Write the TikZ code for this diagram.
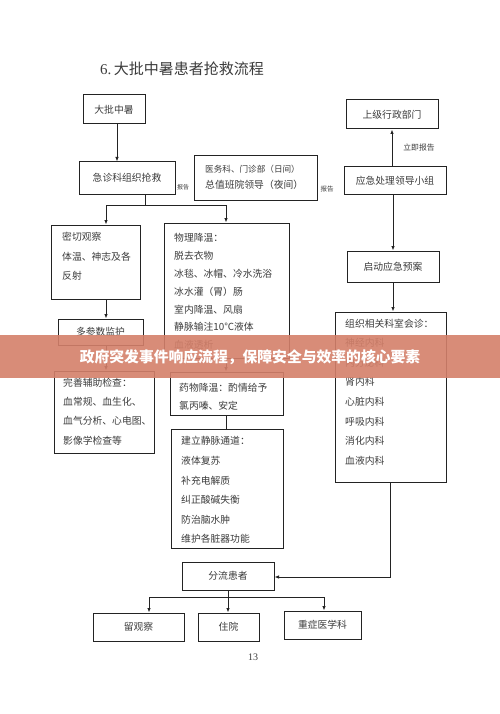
\documentclass[tikz,border=0pt]{standalone}
\usepackage{fontspec}
\setmainfont{Noto Sans CJK SC}
\newfontfamily\serif{Liberation Serif}
\usetikzlibrary{arrows.meta}
\definecolor{ink}{RGB}{35,35,35}
\definecolor{txt}{RGB}{60,60,60}
\definecolor{bannerc}{RGB}{212,128,106}
\begin{document}
\begin{tikzpicture}[x=1pt,y=-1pt,
  box/.style={draw=ink, line width=1pt, rectangle, inner sep=0pt, text=txt, font=\fontsize{9.8}{12}\selectfont},
  multi/.style={text=txt, align=left, anchor=north west, inner sep=0pt, font=\fontsize{9.8}{#1}\selectfont},
  small/.style={text=txt, inner sep=0pt, font=\fontsize{#1}{#1}\selectfont},
  arr/.style={draw=ink, line width=1pt, -{Latex[length=4.5pt,width=3.5pt]}},
  ln/.style={draw=ink, line width=1pt},
  ]
\useasboundingbox (0,0) rectangle (500,714);
\fill[white] (0,0) rectangle (500,714);

% title
\node[text=txt, inner sep=0pt, anchor=west, font=\fontsize{15}{18}\selectfont] (title) at (100,69) {{\serif 6.}\,大批中暑患者抢救流程};

% boxes
\node[box, minimum width=62, minimum height=29] (dapi) at (114,109.5) {大批中暑};
\node[box, minimum width=96, minimum height=32] (jizhen) at (127,178) {急诊科组织抢救};
\node[box, minimum width=123, minimum height=44] (yiwu) at (255.5,178) {};
\node[multi=16.5, anchor=north west] (yiwut) at (205,164.5) {{\fontsize{8.6}{16.5}\selectfont 医务科、门诊部（日间）}\\总值班院领导（夜间）};
\node[box, minimum width=102, minimum height=27] (yingji) at (395,180.5) {应急处理领导小组};
\node[box, minimum width=92, minimum height=29] (shangji) at (392,114.5) {上级行政部门};
\node[box, minimum width=92, minimum height=31] (qidong) at (393,266.5) {启动应急预案};
\node[box, minimum width=111, minimum height=170] (zuzhi) at (390.5,397) {};
\node[multi=19.6] (zuzhit) at (345,318.5) {组织相关科室会诊：\\神经内科\\内分泌科\\肾内科\\心脏内科\\呼吸内科\\消化内科\\血液内科};

\node[box, minimum width=89, minimum height=74] (miqie) at (95.5,262) {};
\node[multi=19.5] (miqiet) at (62,232) {密切观察\\体温、神志及各\\反射};
\node[box, minimum width=85, minimum height=26] (duocan) at (100.5,332) {多参数监护};
\node[box, minimum width=100, minimum height=82] (wanshan) at (104,412) {};
\node[multi=19.2] (wanshant) at (63,378) {完善辅助检查：\\血常规、血生化、\\血气分析、心电图、\\影像学检查等};

\node[box, minimum width=125, minimum height=135] (wuli) at (226.5,290.5) {};
\node[multi=17.8] (wulit) at (174,233.5) {物理降温：\\脱去衣物\\冰毯、冰帽、冷水洗浴\\冰水灌（胃）肠\\室内降温、风扇\\静脉输注10℃液体\\血液透析};
\node[box, minimum width=113, minimum height=43] (yaowu) at (226.5,393.5) {};
\node[multi=18] (yaowut) at (179,383.5) {药物降温：酌情给予\\氯丙嗪、安定};
\node[box, minimum width=112, minimum height=119] (jianli) at (227,488.5) {};
\node[multi=19.6] (jianlit) at (181,436.5) {建立静脉通道：\\液体复苏\\补充电解质\\纠正酸碱失衡\\防治脑水肿\\维护各脏器功能};

\node[box, minimum width=92, minimum height=28] (fenliu) at (228,576) {分流患者};
\node[box, minimum width=91, minimum height=28] (liuguan) at (138.5,627) {留观察};
\node[box, minimum width=61, minimum height=28] (zhuyuan) at (228.5,627) {住院};
\node[box, minimum width=77, minimum height=28] (zhongzheng) at (322.5,625) {\raisebox{2pt}{重症医学科}};

% small labels
\node[small=6] (bao1) at (183,187) {报告};
\node[small=6.5] (bao2) at (327,189) {报告};
\node[small=7.8] (liji) at (419,148) {立即报告};

% connectors
\draw[arr] (dapi.south -| 117,0) -- (jizhen.north -| 117,0);
\coordinate (j1) at (145,205);
\coordinate (bl) at (106,205);
\coordinate (br) at (226,205);
\draw[ln] (jizhen.south -| j1) -- (j1);
\draw[ln] (bl) -- (br);
\draw[arr] (bl) -- (bl |- miqie.north);
\draw[arr] (br) -- (br |- wuli.north);
\draw[arr] (miqie.south -| bl) -- (duocan.north -| bl);
\draw[arr] (duocan.south -| bl) -- (wanshan.north -| bl);
\draw[arr] (wuli.south -| br) -- (yaowu.north -| br);
\draw[ln] (yaowu.south -| br) -- (jianli.north -| br);

\draw[arr] (yingji.north -| shangji.south) -- (shangji.south);
\draw[arr] (yingji.south -| qidong.north) -- (qidong.north);
\draw[arr] (qidong.south) -- (qidong.south |- zuzhi.north);
\coordinate (zc) at (390,577);
\draw[arr] (zuzhi.south -| zc) -- (zc) -- (fenliu.east |- zc);

\coordinate (fl) at (149,597);
\coordinate (fr) at (324,597);
\draw[arr] (fenliu.south) -- (fenliu.south |- zhuyuan.north);
\draw[ln] (fl) -- (fr);
\draw[arr] (fl) -- (fl |- liuguan.north);
\draw[arr] (fr) -- (fr |- zhongzheng.north);

% page number
\node[text=txt, inner sep=0pt, font=\serif\fontsize{10}{12}\selectfont] (pagenum) at (253,657) {13};

% banner overlay
\fill[bannerc, opacity=0.9] (0,335) rectangle (500,378);
\node[text=white, inner sep=0pt, font=\bfseries\fontsize{14.8}{16}\selectfont] (bannert) at (250,357) {政府突发事件响应流程，保障安全与效率的核心要素};
\end{tikzpicture}
\end{document}
